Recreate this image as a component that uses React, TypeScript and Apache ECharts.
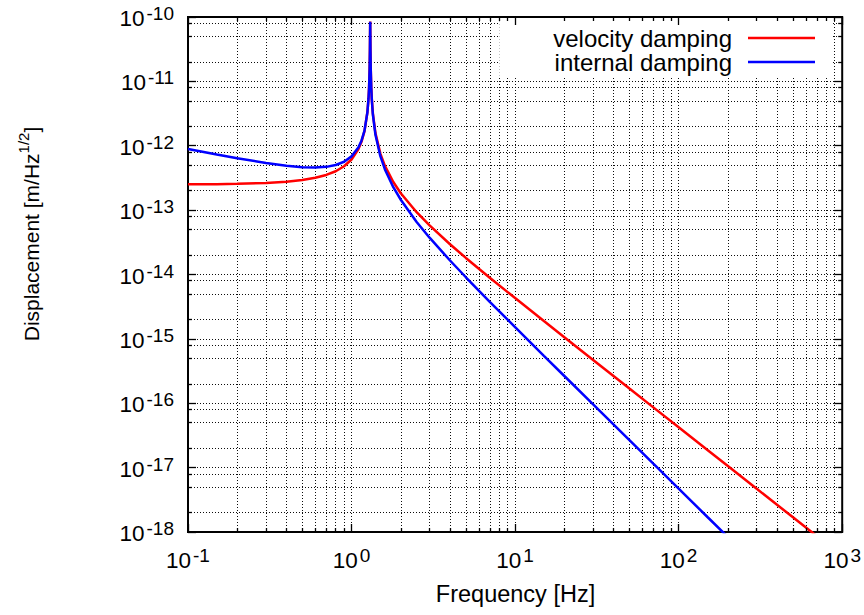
import React, { useEffect, useRef } from "react";
import * as echarts from "echarts";

// ---- data ----
const frequencyHz = [
  0.1, 0.15, 0.2, 0.3, 0.4, 0.5, 0.6, 0.7, 0.8, 0.9, 1.0, 1.1, 1.15, 1.2, 1.25,
  1.27, 1.28, 1.29, 1.295, 1.3, 1.305, 1.31, 1.32, 1.33, 1.35, 1.4, 1.5, 1.6,
  1.8, 2, 2.5, 3, 4, 5, 7, 10, 15, 20, 30, 50, 70, 100, 150, 200, 300, 500, 700,
  1000,
];

const velocityDamping = [
  2.52e-13, 2.53e-13, 2.56e-13, 2.64e-13, 2.76e-13, 2.93e-13, 3.18e-13,
  3.52e-13, 4.02e-13, 4.8e-13, 6.12e-13, 8.8e-13, 1.15e-12, 1.69e-12, 3.31e-12,
  5.48e-12, 8.19e-12, 1.6e-11, 3.04e-11, 8.5e-11, 3.03e-11, 1.59e-11, 8.06e-12,
  5.35e-12, 3.19e-12, 1.57e-12, 7.54e-13, 4.86e-13, 2.73e-13, 1.83e-13,
  9.27e-14, 5.78e-14, 2.95e-14, 1.81e-14, 8.93e-15, 4.3e-15, 1.89e-15, 1.06e-15,
  4.7e-16, 1.69e-16, 8.63e-17, 4.23e-17, 1.88e-17, 1.06e-17, 4.7e-18, 1.69e-18,
  8.62e-19, 4.23e-19,
];

const internalDamping = [
  8.89e-13, 7.31e-13, 6.4e-13, 5.39e-13, 4.88e-13, 4.64e-13, 4.58e-13, 4.7e-13,
  5.03e-13, 5.65e-13, 6.84e-13, 9.38e-13, 1.2e-12, 1.72e-12, 3.31e-12,
  5.43e-12, 8.05e-12, 1.58e-11, 2.99e-11, 8.45e-11, 2.97e-11, 1.56e-11,
  7.81e-12, 5.18e-12, 3.06e-12, 1.48e-12, 6.88e-13, 4.29e-13, 2.27e-13,
  1.45e-13, 6.55e-14, 3.73e-14, 1.65e-14, 9.06e-15, 3.77e-15, 1.52e-15,
  5.46e-16, 2.65e-16, 9.6e-17, 2.67e-17, 1.15e-17, 4.72e-18, 1.71e-18,
  8.35e-19, 3.03e-19,
];

const seriesNames = ["velocity damping", "internal damping"];
const seriesColors = ["#ff0000", "#0000ff"];

const xDecadeExponents = [-1, 0, 1, 2, 3];
const yDecadeExponents = [-18, -17, -16, -15, -14, -13, -12, -11, -10];
const xMinorMultipliers = [2, 3, 4, 5, 6, 7, 8, 9];
const yMinorMultipliers = [2, 5, 8];

const xTitle = "Frequency [Hz]";
const yTitleMain = "Displacement [m/Hz";
const yTitleSup = "1/2";
const yTitleEnd = "]";

const FONT = "'Liberation Sans', Arial, Helvetica, sans-serif";

const pow10 = (e: number) => Number(`1e${e}`);
const minorValues = (exps: number[], mults: number[]) => {
  const out: number[] = [];
  for (let i = 0; i < exps.length - 1; i++) {
    for (const m of mults) out.push(Number(`${m}e${exps[i]}`));
  }
  return out;
};

export default function App() {
  const ref = useRef<HTMLDivElement>(null);

  useEffect(() => {
    document.body.style.margin = "0";
    if (!ref.current) return;
    const chart = echarts.init(ref.current, null, { renderer: "svg" });

    const xMin = pow10(xDecadeExponents[0]);
    const xMax = pow10(xDecadeExponents[xDecadeExponents.length - 1]);
    const yMin = pow10(yDecadeExponents[0]);
    const yMax = pow10(yDecadeExponents[yDecadeExponents.length - 1]);

    const xMinor = minorValues(xDecadeExponents, xMinorMultipliers);
    const yMinor = minorValues(yDecadeExponents, yMinorMultipliers);
    const xMajorInner = xDecadeExponents.slice(1, -1).map(pow10);
    const yMajorInner = yDecadeExponents.slice(1, -1).map(pow10);

    const gridLines = [
      ...[...xMajorInner, ...xMinor].map((v) => ({ xAxis: v })),
      ...[...yMajorInner, ...yMinor].map((v) => ({ yAxis: v })),
    ];

    const rich = {
      b: {
        fontSize: 22.5,
        fontFamily: FONT,
        color: "#000",
        lineHeight: 26,
        verticalAlign: "bottom",
      },
      s: {
        fontSize: 19,
        fontFamily: FONT,
        color: "#000",
        lineHeight: 6,
        verticalAlign: "top",
        padding: [0, 0, 0, 2],
      },
    };
    const powLabel = (v: number) => {
      const e = Math.round(Math.log10(v));
      return `{b|10}{s|${e}}`;
    };

    const tickStyle = { color: "#000", width: 1.3 };

    const logX = (position: string, labels: boolean) => ({
      type: "log",
      gridIndex: 0,
      position,
      min: xMin,
      max: xMax,
      splitNumber: xDecadeExponents.length - 1,
      z: 10,
      axisLine: { show: false, onZero: false },
      axisTick: { show: true, inside: true, length: 8, lineStyle: tickStyle },
      axisLabel: labels
        ? {
            show: true,
            margin: 14,
            formatter: powLabel,
            rich,
            showMinLabel: true,
            showMaxLabel: true,
          }
        : { show: false },
      splitLine: { show: false },
    });
    const minorX = (position: string) => ({
      type: "value",
      gridIndex: 0,
      position,
      min: xDecadeExponents[0],
      max: xDecadeExponents[xDecadeExponents.length - 1],
      z: 10,
      axisLine: { show: false, onZero: false },
      axisTick: {
        show: true,
        inside: true,
        length: 4,
        lineStyle: tickStyle,
        customValues: xMinor.map((v) => Math.log10(v)),
      },
      axisLabel: { show: false },
      splitLine: { show: false },
    });
    const logY = (position: string, labels: boolean) => ({
      type: "log",
      gridIndex: 0,
      position,
      min: yMin,
      max: yMax,
      splitNumber: yDecadeExponents.length - 1,
      z: 10,
      axisLine: { show: false, onZero: false },
      axisTick: { show: true, inside: true, length: 8, lineStyle: tickStyle },
      axisLabel: labels
        ? {
            show: true,
            margin: 14,
            formatter: powLabel,
            rich,
            showMinLabel: true,
            showMaxLabel: true,
          }
        : { show: false },
      splitLine: { show: false },
    });
    const minorY = (position: string) => ({
      type: "value",
      gridIndex: 0,
      position,
      min: yDecadeExponents[0],
      max: yDecadeExponents[yDecadeExponents.length - 1],
      z: 10,
      axisLine: { show: false, onZero: false },
      axisTick: {
        show: true,
        inside: true,
        length: 4,
        lineStyle: tickStyle,
        customValues: yMinor.map((v) => Math.log10(v)),
      },
      axisLabel: { show: false },
      splitLine: { show: false },
    });

    const buildSeries = (idx: number, values: number[], withGrid: boolean) => ({
      name: seriesNames[idx],
      type: "line",
      xAxisIndex: 0,
      yAxisIndex: 0,
      data: values.map((v, i) => [frequencyHz[i], v]),
      symbol: "none",
      showSymbol: false,
      clip: true,
      z: 3,
      lineStyle: { color: seriesColors[idx], width: 2.5 },
      itemStyle: { color: seriesColors[idx] },
      emphasis: { disabled: true },
      markLine: withGrid
        ? {
            silent: true,
            z: 1,
            precision: 20,
            symbol: ["none", "none"],
            label: { show: false },
            emphasis: { disabled: true },
            lineStyle: { color: "#000", width: 1, type: [1, 2], opacity: 0.95 },
            data: gridLines,
          }
        : undefined,
    });

    chart.setOption({
      animation: false,
      backgroundColor: "#fff",
      grid: {
        left: 188,
        right: 21,
        top: 17,
        bottom: 83,
        show: true,
        borderColor: "#000",
        borderWidth: 2,
        backgroundColor: "transparent",
        containLabel: false,
      },
      xAxis: [logX("bottom", true), logX("top", false), minorX("bottom"), minorX("top")],
      yAxis: [logY("left", true), logY("right", false), minorY("left"), minorY("right")],
      legend: {
        show: true,
        orient: "vertical",
        align: "right",
        right: 31,
        top: 18,
        icon: "rect",
        itemWidth: 67,
        itemHeight: 2.5,
        itemGap: 0,
        padding: [8, 18, 3, 54],
        backgroundColor: "#fff",
        selectedMode: false,
        textStyle: {
          fontSize: 24,
          fontFamily: FONT,
          color: "#000",
          lineHeight: 20,
          padding: [0, 11, 4, 0],
        },
        data: seriesNames,
      },
      graphic: [
        {
          type: "text",
          x: 515.5,
          y: 594,
          style: {
            text: xTitle,
            fontSize: 23.5,
            fontFamily: FONT,
            fill: "#000",
            align: "center",
            verticalAlign: "middle",
          },
        },
        {
          type: "text",
          x: 29,
          y: 234,
          rotation: Math.PI / 2,
          style: {
            text: `{b|${yTitleMain}}{s|${yTitleSup}}{b|${yTitleEnd}}`,
            align: "center",
            verticalAlign: "middle",
            rich: {
              b: {
                fontSize: 21,
                fontFamily: FONT,
                fill: "#000",
                lineHeight: 26,
                verticalAlign: "bottom",
              },
              s: {
                fontSize: 15,
                fontFamily: FONT,
                fill: "#000",
                lineHeight: 8,
                verticalAlign: "top",
              },
            },
          },
        },
      ],
      series: [
        buildSeries(0, velocityDamping, true),
        buildSeries(1, internalDamping, false),
      ],
    });

    return () => chart.dispose();
  }, []);

  return <div ref={ref} style={{ width: 864, height: 615 }} />;
}
